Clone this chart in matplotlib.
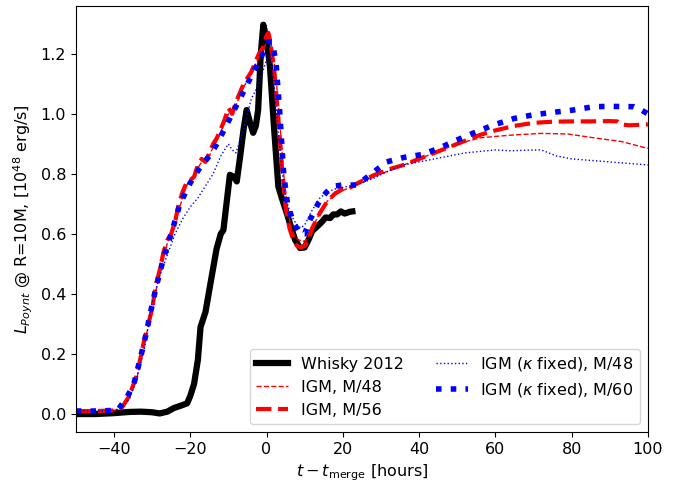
import numpy as np
import matplotlib.pyplot as plt

# ----- data -----
t_whisky = [-50, -45, -40, -36, -33, -30, -28, -26, -24.3, -22, -20.8, -20, -19, -18, -17.3, -16,
            -14.7, -13.1, -12, -11.3, -10.5, -9.6, -8.5, -7.8, -7, -6, -5.2, -4.3, -3.5, -2.8,
            -2.2, -1.5, -0.84, 0, 0.9, 2, 3.1, 4, 5.3, 6.5, 7.5, 8.8, 10, 11, 12, 13.2, 14.5,
            15.5, 16.7, 17.5, 18.5, 19.5, 20.5, 21.9, 22.5]
L_whisky = [0.0, 0.0, 0.003, 0.007, 0.008, 0.006, 0.002, 0.008, 0.02, 0.03, 0.036, 0.06, 0.1,
            0.18, 0.29, 0.34, 0.435, 0.55, 0.6, 0.613, 0.7, 0.797, 0.79, 0.775, 0.85, 0.95, 1.013,
            0.97, 0.937, 0.96, 1.013, 1.2, 1.297, 1.25, 1.158, 0.95, 0.758, 0.72, 0.67, 0.62,
            0.58, 0.553, 0.555, 0.58, 0.61, 0.624, 0.64, 0.655, 0.653, 0.665, 0.665, 0.675,
            0.668, 0.674, 0.675]

t_m56 = [-50, -45, -40, -38, -36, -34, -33, -32, -31, -30, -29, -28, -27, -26, -25, -24, -23,
         -22, -21, -20, -19, -18, -17, -16, -15, -14, -13, -12, -11, -10, -9, -8, -7, -6, -5,
         -4, -3, -2, -1, 0, 0.5, 1, 2, 3, 4, 5, 6, 7, 8, 9, 10, 11, 12, 14, 16, 18, 20, 22, 24,
         28, 32, 36, 40, 44, 48, 52, 56, 60, 65, 70, 75, 80, 85, 90, 92, 93, 95, 100]
L_m56 = [0.01, 0.01, 0.012, 0.02, 0.06, 0.13, 0.19, 0.25, 0.30, 0.35, 0.43, 0.48, 0.54, 0.58,
         0.6, 0.64, 0.7, 0.74, 0.77, 0.78, 0.79, 0.83, 0.85, 0.84, 0.87, 0.9, 0.92, 0.95, 0.98,
         1.02, 1.0, 1.04, 1.07, 1.1, 1.12, 1.14, 1.17, 1.2, 1.22, 1.26, 1.27, 1.24, 1.15, 1.0,
         0.83, 0.69, 0.62, 0.58, 0.56, 0.555, 0.56, 0.58, 0.62, 0.67, 0.71, 0.735, 0.75, 0.755,
         0.77, 0.795, 0.815, 0.83, 0.85, 0.87, 0.89, 0.91, 0.93, 0.945, 0.96, 0.97, 0.974,
         0.975, 0.975, 0.976, 0.975, 0.965, 0.962, 0.965]

t_m48 = [-50, -45, -40, -38, -36, -34, -33, -32, -31, -30, -29, -28, -27, -26, -25, -24, -23,
         -22, -21, -20, -19, -18, -17, -16, -15, -14, -13, -12, -11, -10, -9, -8, -7, -6, -5,
         -4, -3, -2, -1, 0, 0.7, 1.5, 2.5, 3.5, 4.5, 5.5, 6.5, 7.5, 8.5, 9.5, 10.5, 12, 14, 16,
         18, 20, 24, 28, 32, 36, 40, 44, 50, 56, 60, 65, 72, 79, 86, 93, 100]
L_m48 = [0.01, 0.01, 0.012, 0.02, 0.05, 0.12, 0.18, 0.24, 0.29, 0.34, 0.41, 0.47, 0.52, 0.57,
         0.6, 0.63, 0.68, 0.72, 0.76, 0.78, 0.79, 0.82, 0.84, 0.84, 0.86, 0.89, 0.91, 0.94,
         0.97, 1.0, 1.0, 1.03, 1.06, 1.09, 1.11, 1.13, 1.16, 1.19, 1.21, 1.24, 1.25, 1.22,
         1.12, 0.97, 0.8, 0.68, 0.62, 0.59, 0.58, 0.575, 0.58, 0.62, 0.67, 0.71, 0.73, 0.745,
         0.765, 0.79, 0.81, 0.83, 0.85, 0.87, 0.9, 0.92, 0.925, 0.93, 0.935, 0.933, 0.92,
         0.908, 0.885]

t_k48 = [-50, -45, -40, -38, -36, -34, -32, -30, -28, -26, -24, -22, -20, -18, -16, -14, -12,
         -10, -9, -8, -6, -4, -2, 0, 1, 2, 3, 4, 5, 6, 7, 8, 9, 10, 12, 14, 16, 18, 20, 24, 28,
         32, 36, 40, 44, 48, 52, 56, 60, 64, 68, 72, 74, 76, 80, 85, 90, 95, 100]
L_k48 = [0.01, 0.01, 0.012, 0.02, 0.05, 0.12, 0.22, 0.37, 0.46, 0.53, 0.6, 0.65, 0.69, 0.72,
         0.76, 0.8, 0.86, 0.9, 0.88, 0.87, 0.95, 1.05, 1.1, 1.18, 1.2, 1.1, 0.95, 0.82, 0.72,
         0.68, 0.65, 0.63, 0.62, 0.63, 0.68, 0.72, 0.74, 0.75, 0.755, 0.765, 0.785, 0.81, 0.83,
         0.84, 0.85, 0.86, 0.87, 0.875, 0.88, 0.877, 0.879, 0.88, 0.87, 0.86, 0.85, 0.845, 0.84,
         0.835, 0.83]

t_k60 = [-50, -45, -40, -39, -36.5, -34.8, -33, -31.7, -30.4, -29, -27, -25, -22.7, -20, -17.5,
         -15, -13, -11, -9, -7, -5, -3, -1, 0.5, 1.5, 2.5, 3.5, 4.5, 5.5, 7, 8.8, 10, 11.4, 14,
         15.8, 18, 20, 23.7, 27.2, 31.5, 36, 41, 46, 49, 55, 59.5, 65, 70, 75, 80.5, 85.8, 90,
         96.3, 98, 100]
L_k60 = [0.01, 0.01, 0.012, 0.013, 0.058, 0.1, 0.19, 0.26, 0.34, 0.42, 0.52, 0.6, 0.7, 0.77,
         0.82, 0.86, 0.9, 0.95, 1.0, 1.05, 1.1, 1.15, 1.2, 1.24, 1.24, 1.17, 1.0, 0.8, 0.7,
         0.64, 0.6, 0.6, 0.647, 0.713, 0.74, 0.76, 0.763, 0.763, 0.797, 0.84, 0.855, 0.865,
         0.89, 0.908, 0.94, 0.963, 0.985, 0.997, 1.005, 1.013, 1.024, 1.025, 1.024, 1.015, 1.0]

FONT = 11.5

if __name__ == "__main__":
    plt.rcParams["font.size"] = FONT
    fig = plt.figure(figsize=(6.77, 4.86), dpi=100)
    ax = fig.add_axes([0.112, 0.111, 0.845, 0.877])

    ax.plot(t_whisky, L_whisky, color="black", lw=4.5, label="Whisky 2012")
    ax.plot(t_m48, L_m48, color="red", lw=1, ls="--", label="IGM, M/48")
    ax.plot(t_m56, L_m56, color="red", lw=3, ls="--", label="IGM, M/56")
    ax.plot(t_k48, L_k48, color="blue", lw=1, ls=":", label=r"IGM ($\kappa$ fixed), M/48")
    ax.plot(t_k60, L_k60, color="blue", lw=4, ls=":", label=r"IGM ($\kappa$ fixed), M/60")

    ax.set_xlim(-50, 100)
    ax.set_ylim(-0.06, 1.36)
    ax.set_xlabel(r"$t - t_{\rm merge}$ [hours]")
    ax.set_ylabel(r"$L_{Poynt}$ @ R=10M, [$10^{48}$ erg/s]")
    ax.legend(loc="lower right", ncol=2)

    fig.savefig("out.png", dpi=100)
